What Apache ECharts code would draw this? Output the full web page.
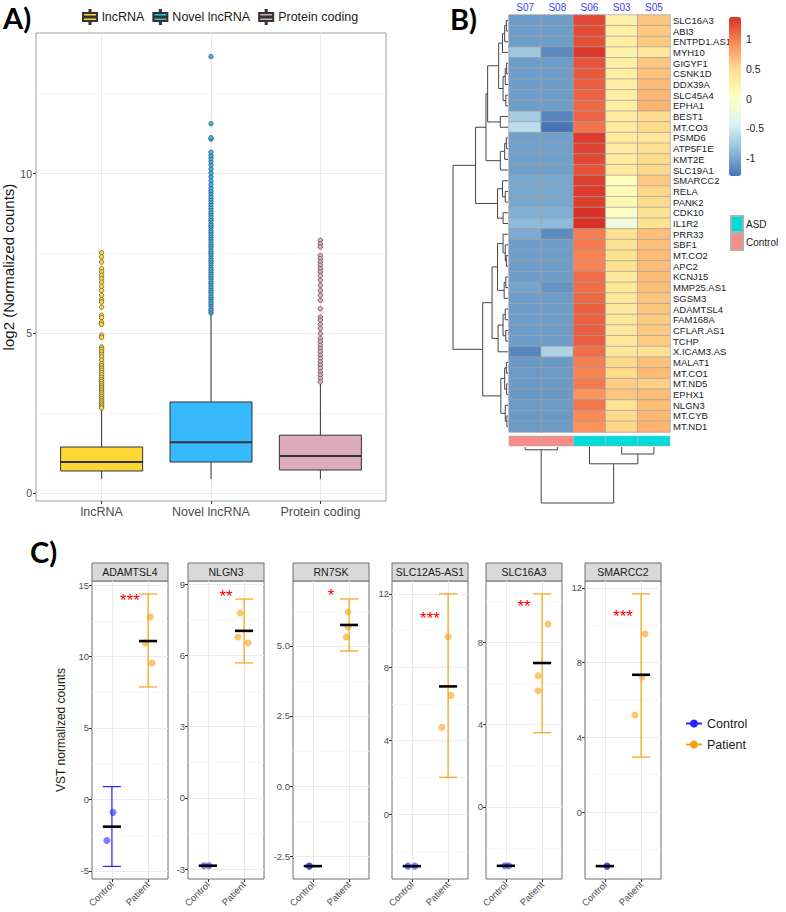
<!DOCTYPE html>
<html>
<head>
<meta charset="utf-8">
<script src="https://cdn.jsdelivr.net/npm/echarts@6/dist/echarts.min.js"></script>
<style>
  html, body { margin: 0; padding: 0; background: #fff; }
  #chart { width: 786px; height: 912px; }
</style>
</head>
<body>
<div id="chart"></div>
<script>
// ---- panel A: boxplots ----
const boxCats = ['lncRNA', 'Novel lncRNA', 'Protein coding'];
// [lower whisker, q1, median, q3, upper whisker]
const boxStats = [
  [0.44, 0.69, 0.97, 1.44, 2.6],
  [0.44, 0.97, 1.59, 2.85, 5.63],
  [0.44, 0.72, 1.16, 1.81, 3.44]
];
const lncOutliers = [7.52, 7.39, 7.23, 7.02, 6.92, 6.81, 6.71, 6.60, 6.47, 6.34, 6.19, 6.05, 5.98, 5.82,
  5.56, 5.49, 5.35, 5.28, 4.94, 4.87, 4.57, 4.50, 4.42, 4.34, 4.26, 4.16, 4.05, 3.98, 3.91, 3.84,
  3.77, 3.70, 3.62, 3.55, 3.49, 3.42, 3.35, 3.29, 3.22, 3.15, 3.09, 3.02, 2.96, 2.90, 2.84, 2.78, 2.72, 2.66];
const novelOutliers = [5.63, 5.70, 5.76, 5.84, 5.91, 5.97, 6.05, 6.12, 6.18, 6.26, 6.33, 6.40, 6.47, 6.55,
  6.61, 6.69, 6.76, 6.83, 6.90, 6.97, 7.04, 7.12, 7.19, 7.26, 7.33, 7.41, 7.48, 7.55, 7.62, 7.70, 7.77,
  7.84, 7.92, 7.99, 8.06, 8.14, 8.21, 8.29, 8.36, 8.43, 8.51, 8.58, 8.66, 8.74, 8.81, 8.89, 8.97, 9.05,
  9.13, 9.21, 9.29, 9.38, 9.46, 9.55, 9.66, 9.78, 9.90, 10.02, 10.14, 10.27, 10.38, 10.48, 10.57, 10.67,
  11.08, 11.12, 11.56, 13.66];
const protOutliers = [7.91, 7.80, 7.70, 7.44, 7.33, 7.23, 7.13, 7.02, 6.92, 6.81, 6.66, 6.50, 6.34, 6.19,
  6.03, 5.77, 5.51, 5.41, 5.28, 5.15, 4.99, 4.83, 4.73, 4.62, 4.52, 4.42, 4.31, 4.21, 4.10, 4.00, 3.90,
  3.79, 3.69, 3.58, 3.48];
const boxColors = ['#FFD735', '#38B9FF', '#DDABBB'];

// ---- panel B: heatmap ----
const samples = ['S07', 'S08', 'S06', 'S03', 'S05'];
const sampleGroup = ['Control', 'Control', 'ASD', 'ASD', 'ASD'];
const genes = ['SLC16A3', 'ABI3', 'ENTPD1.AS1', 'MYH10', 'GIGYF1', 'CSNK1D', 'DDX39A', 'SLC45A4', 'EPHA1',
  'BEST1', 'MT.CO3', 'PSMD6', 'ATP5F1E', 'KMT2E', 'SLC19A1', 'SMARCC2', 'RELA', 'PANK2', 'CDK10', 'IL1R2',
  'PRR33', 'SBF1', 'MT.CO2', 'APC2', 'KCNJ15', 'MMP25.AS1', 'SGSM3', 'ADAMTSL4', 'FAM168A', 'CFLAR.AS1',
  'TCHP', 'X.ICAM3.AS', 'MALAT1', 'MT.CO1', 'MT.ND5', 'EPHX1', 'NLGN3', 'MT.CYB', 'MT.ND1'];
// row z-scores, columns in samples order
const zscores = [
  [-1.06, -1.06, 1.25, 0.25, 0.62], [-1.06, -1.06, 1.24, 0.27, 0.61], [-1.06, -1.06, 1.22, 0.30, 0.60],
  [-0.78, -1.18, 1.33, 0.25, 0.38], [-1.06, -1.06, 1.20, 0.30, 0.62], [-1.06, -1.06, 1.18, 0.30, 0.64],
  [-1.06, -1.06, 1.15, 0.30, 0.67], [-1.06, -1.06, 1.12, 0.30, 0.70], [-1.06, -1.06, 1.10, 0.30, 0.72],
  [-0.75, -1.20, 1.12, 0.33, 0.50], [-0.60, -1.30, 1.05, 0.35, 0.50], [-1.04, -1.04, 1.32, 0.35, 0.41],
  [-1.04, -1.04, 1.28, 0.33, 0.47], [-1.04, -1.04, 1.25, 0.33, 0.50], [-1.04, -1.04, 1.20, 0.36, 0.52],
  [-1.00, -1.00, 1.30, 0.06, 0.60], [-1.00, -1.00, 1.32, 0.12, 0.52], [-1.00, -1.00, 1.30, 0.16, 0.50],
  [-0.95, -0.95, 1.36, 0.00, 0.44], [-0.88, -0.88, 1.37, -0.20, 0.47], [-0.98, -1.16, 1.00, 0.48, 0.66],
  [-1.06, -1.06, 1.02, 0.44, 0.66], [-1.06, -1.06, 0.98, 0.47, 0.67], [-1.06, -1.06, 0.98, 0.47, 0.67],
  [-1.06, -1.06, 1.08, 0.37, 0.67], [-1.02, -1.12, 1.08, 0.40, 0.66], [-1.06, -1.06, 1.10, 0.40, 0.62],
  [-1.06, -1.06, 1.14, 0.36, 0.62], [-1.06, -1.06, 1.14, 0.40, 0.58], [-1.06, -1.06, 1.15, 0.38, 0.59],
  [-1.06, -1.06, 1.15, 0.38, 0.59], [-1.20, -0.70, 1.08, 0.38, 0.44], [-1.08, -1.08, 1.00, 0.52, 0.64],
  [-1.08, -1.08, 0.98, 0.50, 0.68], [-1.08, -1.08, 1.02, 0.58, 0.56], [-1.08, -1.08, 0.88, 0.62, 0.66],
  [-1.08, -1.08, 1.04, 0.46, 0.66], [-1.08, -1.08, 0.94, 0.52, 0.70], [-1.08, -1.08, 0.90, 0.54, 0.72]
];
// dendrograms: [mergeHeight, left, right], leaves = index
const rowTree = [10,
  [5.9,
    [4.0,
      [3.7,
        [1.7, [1.0, [0.6, [0.3, 0, 1], 2], 3], [0.9, [0.5, [0.25, 4, 5], 6], [0.4, 7, 8]]],
        [1.4, 9, 10]],
      [1.4, [0.6, [0.3, 11, 12], 13], 14]],
    [1.9, [1.0, 15, [0.5, 16, 17]], [0.9, 18, 19]]],
  [4.6,
    [2.9,
      [1.9, [0.9, 20, [0.5, 21, [0.3, 22, 23]]], [0.7, [0.4, 24, 25], 26]],
      [1.8, [0.9, [0.5, 27, 28], [0.4, 29, 30]], 31]],
    [1.3, [0.6, [0.3, 32, 33], [0.25, 34, 35]], [0.5, 36, [0.2, 37, 38]]]]];
const colTree = [10, [0.5, 0, 1], [3.0, 2, [1.25, 3, 4]]];
const heatColors = ['#4575B4', '#91BFDB', '#E0F3F8', '#FFFFBF', '#FEE090', '#FC8D59', '#D73027'];
const groupColors = { ASD: '#00DCDC', Control: '#F98C86' };

// ---- panel C: per-gene dot plots ----
const facetGenes = ['ADAMTSL4', 'NLGN3', 'RN7SK', 'SLC12A5-AS1', 'SLC16A3', 'SMARCC2'];
const stars = ['***', '**', '*', '***', '**', '***'];
const starY = [14.2, 8.66, 6.93, 10.86, 9.9, 10.66];
const controlPts = [[-0.9, -2.87], [-2.86, -2.86], [-2.86, -2.86], [-2.83, -2.83], [-2.86, -2.86], [-2.89, -2.89]];
const controlJit = [[0.03, -0.14], [-0.11, 0.03], [-0.1, -0.1], [-0.11, 0.08], [-0.03, 0.08], [0.06, 0.06]];
const patientPts = [[12.76, 10.94, 9.55], [7.78, 6.77, 6.52], [6.21, 5.68, 5.32], [9.66, 6.47, 4.73], [8.87, 6.36, 5.63], [9.54, 7.24, 5.2]];
const patientJit = [[0.06, -0.08, 0.11], [-0.11, -0.17, 0.11], [-0.03, -0.03, -0.08], [0, 0.08, -0.17], [0.17, -0.11, -0.11], [0.11, 0.03, -0.17]];
const controlMean = [-1.9, -2.86, -2.86, -2.83, -2.86, -2.89];
const controlBar = [[-4.68, 0.9], [-2.86, -2.86], [-2.86, -2.86], [-2.83, -2.83], [-2.86, -2.86], [-2.89, -2.89]];
const patientMean = [11.08, 7.03, 5.75, 6.96, 6.98, 7.35];
const patientBar = [[7.87, 14.37], [5.68, 8.37], [4.82, 6.68], [2.01, 12.0], [3.6, 10.33], [2.94, 11.68]];
const yRanges = [[-5.56, 15.28], [-3.42, 9.13], [-3.32, 7.32], [-3.53, 12.7], [-3.5, 10.96], [-3.58, 12.37]];
const yTicks = [[-5, 0, 5, 10, 15], [-3, 0, 3, 6, 9], [-2.5, 0, 2.5, 5], [0, 4, 8, 12], [0, 4, 8], [0, 4, 8, 12]];
const yMinor = [[-2.5, 2.5, 7.5, 12.5], [-1.5, 1.5, 4.5, 7.5], [-1.25, 1.25, 3.75, 6.25], [-2, 2, 6, 10], [-2, 2, 6, 10], [-2, 2, 6, 10]];
const groups = ['Control', 'Patient'];
const lineColors = ['#2424FF', '#F5A20F'];
const dotColors = ['rgba(45,45,255,0.78)', 'rgba(245,166,35,0.8)'];

const FONT = '"Liberation Sans", Arial, sans-serif';
const chart = echarts.init(document.getElementById('chart'), null, { renderer: 'svg' });

const grids = [], xAxes = [], yAxes = [], series = [];
function addGrid(g) { grids.push(g); return grids.length - 1; }
function addX(a) { xAxes.push(a); return xAxes.length - 1; }
function addY(a) { yAxes.push(a); return yAxes.length - 1; }
const hidden = { show: false };
const noLine = { show: false, onZero: false };
const tickText = { color: '#4d4d4d', fontFamily: FONT };

// dendrogram segments: [posA, hA, posB, hB, h]
function dendroSegments(tree) {
  const segs = [];
  (function walk(node) {
    if (typeof node === 'number') return { pos: node + 0.5, h: 0 };
    const a = walk(node[1]), b = walk(node[2]);
    segs.push([a.pos, a.h, b.pos, b.h, node[0]]);
    return { pos: (a.pos + b.pos) / 2, h: node[0] };
  })(tree);
  return segs;
}

function renderBox(params, api) {
  const x = api.value(0);
  const half = 0.375;
  const lo = api.coord([x, api.value(1)]);
  const q1 = api.coord([x, api.value(2)]);
  const med = api.coord([x, api.value(3)]);
  const q3 = api.coord([x, api.value(4)]);
  const hi = api.coord([x, api.value(5)]);
  const l = api.coord([x - half, 0])[0], r = api.coord([x + half, 0])[0];
  const st = api.style();
  const ln = { stroke: '#333', lineWidth: 1 };
  return { type: 'group', children: [
    { type: 'line', shape: { x1: lo[0], y1: lo[1], x2: q1[0], y2: q1[1] }, style: ln },
    { type: 'line', shape: { x1: q3[0], y1: q3[1], x2: hi[0], y2: hi[1] }, style: ln },
    { type: 'rect', shape: { x: l, y: q3[1], width: r - l, height: q1[1] - q3[1] }, style: { fill: st.fill, stroke: '#333', lineWidth: 1 } },
    { type: 'line', shape: { x1: l, y1: med[1], x2: r, y2: med[1] }, style: { stroke: '#333', lineWidth: 2 } }
  ] };
}

// ---------- Panel A ----------
const gA = addGrid({ left: 36, top: 33, width: 350, height: 468, show: true, borderColor: '#9f9f9f', borderWidth: 1 });
const xA = addX({ gridIndex: gA, type: 'value', min: 0.4, max: 3.6,
  axisLine: noLine,
  axisTick: { customValues: [1, 2, 3], length: 3, lineStyle: { color: '#333' } },
  axisLabel: Object.assign({ customValues: [1, 2, 3], formatter: v => boxCats[Math.round(v) - 1], fontSize: 12.5, margin: 4 }, tickText),
  splitLine: { show: true, lineStyle: { color: '#ebebeb' } } });
const yA = addY({ gridIndex: gA, type: 'value', min: -0.25, max: 14.4, position: 'left',
  name: 'log2 (Normalized counts)', nameLocation: 'middle', nameGap: 20,
  nameTextStyle: { fontSize: 15, color: '#1a1a1a', fontFamily: FONT },
  axisLine: noLine,
  axisTick: { customValues: [0, 5, 10], length: 3, lineStyle: { color: '#333' } },
  axisLabel: Object.assign({ customValues: [0, 5, 10], fontSize: 10.5, margin: 4 }, tickText),
  splitLine: { show: true, lineStyle: { color: '#ebebeb' } } });
addY({ gridIndex: gA, type: 'value', min: -0.25, max: 14.4, position: 'left',
  axisLine: noLine, axisLabel: hidden,
  axisTick: { show: false, customValues: [2.5, 7.5, 12.5] },
  splitLine: { show: true, lineStyle: { color: '#f4f4f4', width: 0.7 } } });

boxCats.forEach((name, i) => {
  series.push({ type: 'custom', name, xAxisIndex: xA, yAxisIndex: yA, z: 2,
    itemStyle: { color: boxColors[i], borderColor: '#333', borderWidth: 1 },
    encode: { x: 0, y: [1, 2, 3, 4, 5] },
    data: [[i + 1].concat(boxStats[i])], renderItem: renderBox });
});
[lncOutliers, novelOutliers, protOutliers].forEach((arr, i) => {
  series.push({ type: 'scatter', xAxisIndex: xA, yAxisIndex: yA, z: 3, silent: true,
    symbolSize: 4.5, itemStyle: { color: boxColors[i], borderColor: '#333', borderWidth: 0.6, opacity: 1 },
    data: arr.map(v => [i + 1, v]) });
});

// ---------- Panel B ----------
const gH = addGrid({ left: 509, top: 15, width: 161, height: 417 });
const xH = addX({ gridIndex: gH, type: 'category', data: samples, position: 'top',
  axisLine: noLine, axisTick: hidden, splitLine: hidden,
  axisLabel: { interval: 0, color: '#3b3bf5', fontSize: 10, margin: 3, fontFamily: FONT } });
const yH = addY({ gridIndex: gH, type: 'category', data: genes, inverse: true, position: 'right',
  axisLine: noLine, axisTick: hidden, splitLine: hidden,
  axisLabel: { interval: 0, color: '#222', fontSize: 9.5, margin: 3, fontFamily: FONT } });
const heatData = [];
zscores.forEach((row, r) => row.forEach((v, c) => heatData.push([c, r, v])));
const hmIndex = series.length;
series.push({ type: 'heatmap', xAxisIndex: xH, yAxisIndex: yH, data: heatData, silent: true,
  itemStyle: { borderColor: '#a0a0a0', borderWidth: 0.7 }, emphasis: { disabled: true } });

// colour key labels
const gCB = addGrid({ left: 729, top: 17, width: 12, height: 159 });
addX({ gridIndex: gCB, type: 'value', min: 0, max: 1, show: false });
addY({ gridIndex: gCB, type: 'value', min: -1.3, max: 1.37, position: 'right',
  axisLine: noLine, axisTick: { show: false, customValues: [-1, -0.5, 0, 0.5, 1] }, splitLine: hidden,
  axisLabel: { customValues: [-1, -0.5, 0, 0.5, 1], color: '#222', fontSize: 10.5, margin: 5, fontFamily: FONT } });

// annotation bar
function renderCell(params, api) {
  const p = api.coord([api.value(0), 1]);
  const s = api.size([1, 1]);
  return { type: 'rect', shape: { x: p[0] - s[0] / 2, y: p[1], width: s[0], height: s[1] }, style: api.style() };
}
const gAn = addGrid({ left: 509, top: 436, width: 161, height: 10 });
const xAn = addX({ gridIndex: gAn, type: 'category', data: samples, show: false });
const yAn = addY({ gridIndex: gAn, type: 'value', min: 0, max: 1, show: false });
['ASD', 'Control'].forEach(g => {
  series.push({ type: 'custom', name: 'annot_' + g, xAxisIndex: xAn, yAxisIndex: yAn, silent: true,
    itemStyle: { color: groupColors[g], borderColor: '#b0b0b0', borderWidth: 0.6 },
    encode: { x: 0, y: 1 },
    data: samples.map((s, i) => [i, 1]).filter((d, i) => sampleGroup[i] === g),
    renderItem: renderCell });
});

// dendrograms
const gRD = addGrid({ left: 453, top: 15, width: 55, height: 417 });
const xRD = addX({ gridIndex: gRD, type: 'value', min: 0, max: 10, inverse: true, show: false });
const yRD = addY({ gridIndex: gRD, type: 'value', min: 0, max: genes.length, inverse: true, show: false });
series.push({ type: 'custom', xAxisIndex: xRD, yAxisIndex: yRD, silent: true, encode: { x: 1, y: 0 },
  data: dendroSegments(rowTree),
  renderItem: (params, api) => {
    const pts = [
      api.coord([api.value(1), api.value(0)]), api.coord([api.value(4), api.value(0)]),
      api.coord([api.value(4), api.value(2)]), api.coord([api.value(3), api.value(2)])];
    return { type: 'polyline', shape: { points: pts }, style: { stroke: '#444', lineWidth: 1, fill: null } };
  } });
const gCD = addGrid({ left: 509, top: 447, width: 161, height: 56 });
const xCD = addX({ gridIndex: gCD, type: 'value', min: 0, max: samples.length, show: false });
const yCD = addY({ gridIndex: gCD, type: 'value', min: 0, max: 10, inverse: true, show: false });
series.push({ type: 'custom', xAxisIndex: xCD, yAxisIndex: yCD, silent: true, encode: { x: 0, y: 1 },
  data: dendroSegments(colTree),
  renderItem: (params, api) => {
    const pts = [
      api.coord([api.value(0), api.value(1)]), api.coord([api.value(0), api.value(4)]),
      api.coord([api.value(2), api.value(4)]), api.coord([api.value(2), api.value(3)])];
    return { type: 'polyline', shape: { points: pts }, style: { stroke: '#444', lineWidth: 1, fill: null } };
  } });

// ---------- Panel C ----------
const cLefts = [92, 188, 293, 392, 486, 585];
const cTop = 581, cW = 76, cH = 298;

function renderErr(params, api) {
  const x = api.value(0);
  const color = lineColors[api.value(3)];
  const t = api.coord([x, api.value(2)]), b = api.coord([x, api.value(1)]);
  const l = api.coord([x - 0.25, 0])[0], r = api.coord([x + 0.25, 0])[0];
  const st = { stroke: color, lineWidth: 1.2 };
  return { type: 'group', children: [
    { type: 'line', shape: { x1: t[0], y1: t[1], x2: b[0], y2: b[1] }, style: st },
    { type: 'line', shape: { x1: l, y1: t[1], x2: r, y2: t[1] }, style: st },
    { type: 'line', shape: { x1: l, y1: b[1], x2: r, y2: b[1] }, style: st }
  ] };
}
function renderMean(params, api) {
  const x = api.value(0);
  const p = api.coord([x, api.value(1)]);
  const l = api.coord([x - 0.25, 0])[0], r = api.coord([x + 0.25, 0])[0];
  return { type: 'line', shape: { x1: l, y1: p[1], x2: r, y2: p[1] }, style: { stroke: '#000', lineWidth: 2.6 } };
}

facetGenes.forEach((gene, i) => {
  const g = addGrid({ left: cLefts[i], top: cTop, width: cW, height: cH, show: true, borderColor: '#6f6f6f', borderWidth: 1 });
  const xi = addX({ gridIndex: g, type: 'value', min: 0.45, max: 2.55,
    axisLine: noLine,
    axisTick: { customValues: [1, 2], length: 3, lineStyle: { color: '#333' } },
    axisLabel: Object.assign({ customValues: [1, 2], formatter: v => groups[Math.round(v) - 1], rotate: 45, fontSize: 9.5, margin: 4 }, tickText),
    splitLine: { show: true, lineStyle: { color: '#ebebeb' } } });
  const yi = addY(Object.assign({ gridIndex: g, type: 'value', min: yRanges[i][0], max: yRanges[i][1], position: 'left',
    axisLine: noLine,
    axisTick: { customValues: yTicks[i], length: 3, lineStyle: { color: '#333' } },
    axisLabel: Object.assign({ customValues: yTicks[i], formatter: v => (i === 2 ? v.toFixed(1) : String(v)), fontSize: 9.5, margin: 3 }, tickText),
    splitLine: { show: true, lineStyle: { color: '#ebebeb' } } },
    i === 0 ? { name: 'VST normalized counts', nameLocation: 'middle', nameGap: 25,
      nameTextStyle: { fontSize: 12, color: '#1a1a1a', fontFamily: FONT } } : {}));
  addY({ gridIndex: g, type: 'value', min: yRanges[i][0], max: yRanges[i][1], position: 'left',
    axisLine: noLine, axisLabel: hidden,
    axisTick: { show: false, customValues: yMinor[i] },
    splitLine: { show: true, lineStyle: { color: '#f4f4f4', width: 0.7 } } });

  if (i === 0) {
    groups.forEach((name, k) => series.push({ type: 'line', name, xAxisIndex: xi, yAxisIndex: yi, data: [],
      symbol: 'circle', symbolSize: 7, itemStyle: { color: lineColors[k] }, lineStyle: { color: lineColors[k], width: 1.5 } }));
  }
  series.push({ type: 'custom', xAxisIndex: xi, yAxisIndex: yi, silent: true, z: 2, encode: { x: 0, y: [1, 2] },
    data: [[1, controlBar[i][0], controlBar[i][1], 0], [2, patientBar[i][0], patientBar[i][1], 1]],
    renderItem: renderErr });
  series.push({ type: 'scatter', xAxisIndex: xi, yAxisIndex: yi, silent: true, z: 3, symbolSize: 7,
    itemStyle: { color: dotColors[0] },
    data: controlPts[i].map((v, k) => [1 + controlJit[i][k], v]) });
  series.push({ type: 'scatter', xAxisIndex: xi, yAxisIndex: yi, silent: true, z: 3, symbolSize: 7,
    itemStyle: { color: dotColors[1] },
    data: patientPts[i].map((v, k) => [2 + patientJit[i][k], v]) });
  series.push({ type: 'custom', xAxisIndex: xi, yAxisIndex: yi, silent: true, z: 4, encode: { x: 0, y: 1 },
    data: [[1, controlMean[i]], [2, patientMean[i]]], renderItem: renderMean });
  series.push({ type: 'custom', xAxisIndex: xi, yAxisIndex: yi, silent: true, z: 5, encode: { x: 0, y: 1 },
    data: [[1.5, starY[i]]],
    renderItem: (params, api) => {
      const p = api.coord([api.value(0), api.value(1)]);
      return { type: 'text', x: p[0], y: p[1] + 4,
        style: { text: stars[i], fill: '#ff0000', font: '17px ' + FONT, align: 'center', verticalAlign: 'middle' } };
    } });
});

const labelFont = 'bold 29px Lato, "Liberation Sans", sans-serif';
const graphic = [
  { type: 'text', x: 3, y: 3, style: { text: 'A)', font: labelFont, fill: '#000' } },
  { type: 'text', x: 450, y: 4, style: { text: 'B)', font: labelFont, fill: '#000' } },
  { type: 'text', x: 30, y: 537, style: { text: 'C)', font: labelFont, fill: '#000' } }
];
facetGenes.forEach((gene, i) => {
  graphic.push({ type: 'rect', shape: { x: cLefts[i], y: 563, width: cW, height: 18 },
    style: { fill: '#d9d9d9', stroke: '#6f6f6f', lineWidth: 1 } });
  graphic.push({ type: 'text', x: cLefts[i] + cW / 2, y: 572,
    style: { text: gene, fill: '#1a1a1a', font: '10.5px ' + FONT, align: 'center', verticalAlign: 'middle' } });
});

const boxIcon = 'path://M6.5,0H7.5V3H6.5Z M0,3H14V6.6H0Z M0,7.4H14V11H0Z M6.5,11H7.5V14H6.5Z';

chart.setOption({
  animation: false,
  textStyle: { fontFamily: FONT },
  grid: grids,
  xAxis: xAxes,
  yAxis: yAxes,
  visualMap: [{ type: 'continuous', seriesIndex: hmIndex, min: -1.3, max: 1.37, inRange: { color: heatColors },
    left: 729, top: 17, itemWidth: 12, itemHeight: 159, padding: 0, calculable: false, hoverLink: false,
    orient: 'vertical' }],
  legend: [
    { data: boxCats.map(n => ({ name: n, icon: boxIcon })), left: 77, top: 4, itemWidth: 14, itemHeight: 14,
      itemGap: 8, selectedMode: false, textStyle: { fontSize: 12.5, color: '#1a1a1a', fontFamily: FONT } },
    { data: ['annot_ASD', 'annot_Control'], formatter: n => n.replace('annot_', ''), orient: 'vertical',
      left: 730, top: 215, itemWidth: 12, itemHeight: 16, itemGap: 0, icon: 'rect', selectedMode: false,
      padding: 0, textStyle: { fontSize: 10, color: '#222', fontFamily: FONT, padding: [0, 0, 0, -2] } },
    { data: groups, orient: 'vertical', left: 680, top: 712, itemWidth: 16, itemHeight: 10, itemGap: 8,
      selectedMode: false, textStyle: { fontSize: 12.5, color: '#1a1a1a', fontFamily: FONT } }
  ],
  graphic,
  series
});
</script>
</body>
</html>
